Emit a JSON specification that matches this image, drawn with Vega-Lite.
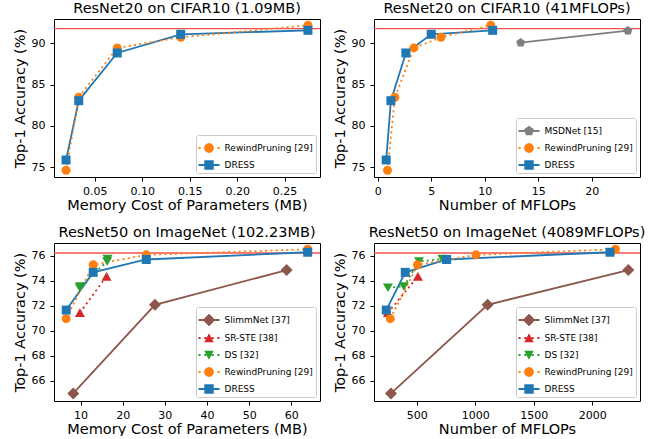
{
  "$schema": "https://vega.github.io/schema/vega-lite/v6.json",
  "padding": {"left": 11, "top": 0, "right": 5, "bottom": 0},
  "bounds": "flush",
  "columns": 2,
  "spacing": {"column": 54, "row": 66},
  "datasets": {
    "p1": [
      {"method": "RewindPruning [29]", "x": 0.0197, "y": 74.64},
      {"method": "RewindPruning [29]", "x": 0.0331, "y": 83.47},
      {"method": "RewindPruning [29]", "x": 0.0736, "y": 89.44},
      {"method": "RewindPruning [29]", "x": 0.1405, "y": 90.73},
      {"method": "RewindPruning [29]", "x": 0.2746, "y": 92.18},
      {"method": "DRESS", "x": 0.0197, "y": 75.89},
      {"method": "DRESS", "x": 0.0331, "y": 83.06},
      {"method": "DRESS", "x": 0.0736, "y": 88.83},
      {"method": "DRESS", "x": 0.1405, "y": 91.09},
      {"method": "DRESS", "x": 0.2746, "y": 91.57}
    ],
    "p2": [
      {"method": "MSDNet [15]", "x": 13.35, "y": 90.08},
      {"method": "MSDNet [15]", "x": 23.37, "y": 91.53},
      {"method": "RewindPruning [29]", "x": 0.90, "y": 74.64},
      {"method": "RewindPruning [29]", "x": 1.59, "y": 83.47},
      {"method": "RewindPruning [29]", "x": 3.37, "y": 89.44},
      {"method": "RewindPruning [29]", "x": 5.90, "y": 90.73},
      {"method": "RewindPruning [29]", "x": 10.55, "y": 92.18},
      {"method": "DRESS", "x": 0.78, "y": 75.89},
      {"method": "DRESS", "x": 1.22, "y": 83.06},
      {"method": "DRESS", "x": 2.62, "y": 88.83},
      {"method": "DRESS", "x": 4.99, "y": 91.09},
      {"method": "DRESS", "x": 10.73, "y": 91.57}
    ],
    "p3": [
      {"method": "SlimmNet [37]", "x": 8.26, "y": 64.99},
      {"method": "SlimmNet [37]", "x": 27.64, "y": 72.08},
      {"method": "SlimmNet [37]", "x": 58.89, "y": 74.86},
      {"method": "SR-STE [38]", "x": 9.84, "y": 71.45},
      {"method": "SR-STE [38]", "x": 16.17, "y": 74.36},
      {"method": "DS [32]", "x": 9.8, "y": 73.45},
      {"method": "DS [32]", "x": 9.9, "y": 73.55},
      {"method": "DS [32]", "x": 16.3, "y": 75.55},
      {"method": "DS [32]", "x": 16.4, "y": 75.75},
      {"method": "RewindPruning [29]", "x": 6.6, "y": 70.97},
      {"method": "RewindPruning [29]", "x": 13.0, "y": 75.29},
      {"method": "RewindPruning [29]", "x": 25.59, "y": 76.08},
      {"method": "RewindPruning [29]", "x": 63.88, "y": 76.53},
      {"method": "DRESS", "x": 6.6, "y": 71.66},
      {"method": "DRESS", "x": 13.0, "y": 74.68},
      {"method": "DRESS", "x": 25.59, "y": 75.71},
      {"method": "DRESS", "x": 63.88, "y": 76.29}
    ],
    "p4": [
      {"method": "SlimmNet [37]", "x": 281, "y": 64.99},
      {"method": "SlimmNet [37]", "x": 1106, "y": 72.08},
      {"method": "SlimmNet [37]", "x": 2307, "y": 74.86},
      {"method": "SR-STE [38]", "x": 255, "y": 71.45},
      {"method": "SR-STE [38]", "x": 511, "y": 74.36},
      {"method": "DS [32]", "x": 255, "y": 73.45},
      {"method": "DS [32]", "x": 390, "y": 73.55},
      {"method": "DS [32]", "x": 520, "y": 75.55},
      {"method": "DS [32]", "x": 720, "y": 75.75},
      {"method": "RewindPruning [29]", "x": 275, "y": 70.97},
      {"method": "RewindPruning [29]", "x": 508, "y": 75.29},
      {"method": "RewindPruning [29]", "x": 1007, "y": 76.08},
      {"method": "RewindPruning [29]", "x": 2197, "y": 76.53},
      {"method": "DRESS", "x": 241, "y": 71.66},
      {"method": "DRESS", "x": 403, "y": 74.68},
      {"method": "DRESS", "x": 756, "y": 75.71},
      {"method": "DRESS", "x": 2151, "y": 76.29}
    ],
    "base1": [{"b": 91.77}],
    "base2": [{"b": 76.23}]
  },
  "concat": [
    {
      "width": 266, "height": 158,
      "title": {"text": "ResNet20 on CIFAR10 (1.09MB)", "fontWeight": "normal"},
      "layer": [
        {"data": {"name": "base1"}, "mark": {"type": "rule", "color": "#f4524f", "strokeWidth": 1.3},
         "encoding": {"y": {"field": "b", "type": "quantitative", "scale": {"domain": [73.83, 92.94], "nice": false, "zero": false}, "axis": {"title": "Top-1 Accuracy (%)", "values": [75, 80, 85, 90], "tickCount": 20, "format": "d"}}}},
        {"data": {"name": "p1"}, "transform": [{"filter": {"field": "method", "oneOf": ["DRESS"]}}], "mark": {"type": "line", "strokeWidth": 1.8},
         "encoding": {
           "x": {"field": "x", "type": "quantitative", "scale": {"domain": [0.007, 0.2873], "nice": false, "zero": false}, "axis": {"title": "Memory Cost of Parameters (MB)", "values": [0.05, 0.1, 0.15, 0.2, 0.25], "format": ".2f", "tickCount": 20}},
           "y": {"field": "y", "type": "quantitative"},
           "color": {"field": "method", "type": "nominal", "scale": {"domain": ["RewindPruning [29]", "DRESS"], "range": ["#ff7f0e", "#1f77b4"]}}
         }},
        {"data": {"name": "p1"}, "transform": [{"filter": {"field": "method", "oneOf": ["RewindPruning [29]"]}}], "mark": {"type": "line", "strokeWidth": 1.8, "strokeDash": [2, 3.3]},
         "encoding": {"x": {"field": "x", "type": "quantitative"}, "y": {"field": "y", "type": "quantitative"}, "color": {"field": "method", "type": "nominal"}}},
        {"data": {"name": "p1"}, "transform": [{"filter": {"field": "method", "oneOf": ["RewindPruning [29]"]}}], "mark": {"type": "point", "filled": true, "opacity": 1, "shape": "circle", "size": 81},
         "encoding": {"x": {"field": "x", "type": "quantitative"}, "y": {"field": "y", "type": "quantitative"}, "color": {"field": "method", "type": "nominal"}}},
        {"data": {"name": "p1"}, "transform": [{"filter": {"field": "method", "oneOf": ["DRESS"]}}], "mark": {"type": "point", "filled": true, "opacity": 1, "shape": "square", "size": 81},
         "encoding": {"x": {"field": "x", "type": "quantitative"}, "y": {"field": "y", "type": "quantitative"}, "color": {"field": "method", "type": "nominal"}}},
        {"data": {"name": "p1"}, "mark": {"type": "point", "filled": true, "opacity": 0},
         "encoding": {"x": {"field": "x", "type": "quantitative"}, "y": {"field": "y", "type": "quantitative"},
           "color": {"field": "method", "type": "nominal", "legend": {"title": null, "orient": "bottom-right", "symbolOpacity": 1}},
           "shape": {"field": "method", "type": "nominal", "legend": null, "scale": {"domain": ["RewindPruning [29]", "DRESS"], "range": [
             "M-1,-0.09L-0.8,-0.09L-0.8,0.09L-1,0.09ZM-0.45,-0.09L-0.25,-0.09L-0.25,0.09L-0.45,0.09ZM0.25,-0.09L0.45,-0.09L0.45,0.09L0.25,0.09ZM0.8,-0.09L1,-0.09L1,0.09L0.8,0.09ZM0.47,0L0.407,0.235L0.235,0.407L0,0.47L-0.235,0.407L-0.407,0.235L-0.47,0L-0.407,-0.235L-0.235,-0.407L0,-0.47L0.235,-0.407L0.407,-0.235Z",
             "M-1,-0.09L1,-0.09L1,0.09L-1,0.09ZM-0.45,-0.45L0.45,-0.45L0.45,0.45L-0.45,0.45Z"]}}}}
      ]
    },
    {
      "width": 266, "height": 158,
      "title": {"text": "ResNet20 on CIFAR10 (41MFLOPs)", "fontWeight": "normal"},
      "layer": [
        {"data": {"name": "base1"}, "mark": {"type": "rule", "color": "#f4524f", "strokeWidth": 1.3},
         "encoding": {"y": {"field": "b", "type": "quantitative", "scale": {"domain": [73.83, 92.94], "nice": false, "zero": false}, "axis": {"title": "Top-1 Accuracy (%)", "values": [75, 80, 85, 90], "tickCount": 20, "format": "d"}}}},
        {"data": {"name": "p2"}, "transform": [{"filter": {"field": "method", "oneOf": ["MSDNet [15]", "DRESS"]}}], "mark": {"type": "line", "strokeWidth": 1.8},
         "encoding": {
           "x": {"field": "x", "type": "quantitative", "scale": {"domain": [-0.36, 24.5], "nice": false, "zero": false}, "axis": {"title": "Number of MFLOPs", "values": [0, 5, 10, 15, 20], "format": "d", "tickCount": 20}},
           "y": {"field": "y", "type": "quantitative"},
           "color": {"field": "method", "type": "nominal", "scale": {"domain": ["MSDNet [15]", "RewindPruning [29]", "DRESS"], "range": ["#7f7f7f", "#ff7f0e", "#1f77b4"]}}
         }},
        {"data": {"name": "p2"}, "transform": [{"filter": {"field": "method", "oneOf": ["RewindPruning [29]"]}}], "mark": {"type": "line", "strokeWidth": 1.8, "strokeDash": [2, 3.3]},
         "encoding": {"x": {"field": "x", "type": "quantitative"}, "y": {"field": "y", "type": "quantitative"}, "color": {"field": "method", "type": "nominal"}}},
        {"data": {"name": "p2"}, "transform": [{"filter": {"field": "method", "oneOf": ["MSDNet [15]"]}}], "mark": {"type": "point", "filled": true, "opacity": 1, "shape": "M0,-1L0.951,-0.309L0.588,0.809L-0.588,0.809L-0.951,-0.309Z", "size": 90},
         "encoding": {"x": {"field": "x", "type": "quantitative"}, "y": {"field": "y", "type": "quantitative"}, "color": {"field": "method", "type": "nominal"}}},
        {"data": {"name": "p2"}, "transform": [{"filter": {"field": "method", "oneOf": ["RewindPruning [29]"]}}], "mark": {"type": "point", "filled": true, "opacity": 1, "shape": "circle", "size": 81},
         "encoding": {"x": {"field": "x", "type": "quantitative"}, "y": {"field": "y", "type": "quantitative"}, "color": {"field": "method", "type": "nominal"}}},
        {"data": {"name": "p2"}, "transform": [{"filter": {"field": "method", "oneOf": ["DRESS"]}}], "mark": {"type": "point", "filled": true, "opacity": 1, "shape": "square", "size": 81},
         "encoding": {"x": {"field": "x", "type": "quantitative"}, "y": {"field": "y", "type": "quantitative"}, "color": {"field": "method", "type": "nominal"}}},
        {"data": {"name": "p2"}, "mark": {"type": "point", "filled": true, "opacity": 0},
         "encoding": {"x": {"field": "x", "type": "quantitative"}, "y": {"field": "y", "type": "quantitative"},
           "color": {"field": "method", "type": "nominal", "legend": {"title": null, "orient": "bottom-right", "symbolOpacity": 1}},
           "shape": {"field": "method", "type": "nominal", "legend": null, "scale": {"domain": ["MSDNet [15]", "RewindPruning [29]", "DRESS"], "range": [
             "M-1,-0.09L1,-0.09L1,0.09L-1,0.09ZM0,-0.5L0.476,-0.155L0.294,0.405L-0.294,0.405L-0.476,-0.155Z",
             "M-1,-0.09L-0.8,-0.09L-0.8,0.09L-1,0.09ZM-0.45,-0.09L-0.25,-0.09L-0.25,0.09L-0.45,0.09ZM0.25,-0.09L0.45,-0.09L0.45,0.09L0.25,0.09ZM0.8,-0.09L1,-0.09L1,0.09L0.8,0.09ZM0.47,0L0.407,0.235L0.235,0.407L0,0.47L-0.235,0.407L-0.407,0.235L-0.47,0L-0.407,-0.235L-0.235,-0.407L0,-0.47L0.235,-0.407L0.407,-0.235Z",
             "M-1,-0.09L1,-0.09L1,0.09L-1,0.09ZM-0.45,-0.45L0.45,-0.45L0.45,0.45L-0.45,0.45Z"]}}}}
      ]
    },
    {
      "width": 266, "height": 158,
      "title": {"text": "ResNet50 on ImageNet (102.23MB)", "fontWeight": "normal"},
      "layer": [
        {"data": {"name": "base2"}, "mark": {"type": "rule", "color": "#f4524f", "strokeWidth": 1.3},
         "encoding": {"y": {"field": "b", "type": "quantitative", "scale": {"domain": [64.38, 77.03], "nice": false, "zero": false}, "axis": {"title": "Top-1 Accuracy (%)", "values": [66, 68, 70, 72, 74, 76], "tickCount": 20, "format": "d"}}}},
        {"data": {"name": "p3"}, "transform": [{"filter": {"field": "method", "oneOf": ["SlimmNet [37]", "DRESS"]}}], "mark": {"type": "line", "strokeWidth": 1.8},
         "encoding": {
           "x": {"field": "x", "type": "quantitative", "scale": {"domain": [3.7, 66.8], "nice": false, "zero": false}, "axis": {"title": "Memory Cost of Parameters (MB)", "values": [10, 20, 30, 40, 50, 60], "format": "d", "tickCount": 20}},
           "y": {"field": "y", "type": "quantitative"},
           "color": {"field": "method", "type": "nominal", "scale": {"domain": ["SlimmNet [37]", "SR-STE [38]", "DS [32]", "RewindPruning [29]", "DRESS"], "range": ["#8c564b", "#d62728", "#2ca02c", "#ff7f0e", "#1f77b4"]}}
         }},
        {"data": {"name": "p3"}, "transform": [{"filter": {"field": "method", "oneOf": ["SR-STE [38]", "DS [32]", "RewindPruning [29]"]}}], "mark": {"type": "line", "strokeWidth": 1.8, "strokeDash": [2, 3.3]},
         "encoding": {"x": {"field": "x", "type": "quantitative"}, "y": {"field": "y", "type": "quantitative"}, "color": {"field": "method", "type": "nominal"}}},
        {"data": {"name": "p3"}, "transform": [{"filter": {"field": "method", "oneOf": ["SlimmNet [37]"]}}], "mark": {"type": "point", "filled": true, "opacity": 1, "shape": "diamond", "size": 144},
         "encoding": {"x": {"field": "x", "type": "quantitative"}, "y": {"field": "y", "type": "quantitative"}, "color": {"field": "method", "type": "nominal"}}},
        {"data": {"name": "p3"}, "transform": [{"filter": {"field": "method", "oneOf": ["SR-STE [38]"]}}], "mark": {"type": "point", "filled": true, "opacity": 1, "shape": "triangle-up", "size": 100},
         "encoding": {"x": {"field": "x", "type": "quantitative"}, "y": {"field": "y", "type": "quantitative"}, "color": {"field": "method", "type": "nominal"}}},
        {"data": {"name": "p3"}, "transform": [{"filter": {"field": "method", "oneOf": ["DS [32]"]}}], "mark": {"type": "point", "filled": true, "opacity": 1, "shape": "triangle-down", "size": 100},
         "encoding": {"x": {"field": "x", "type": "quantitative"}, "y": {"field": "y", "type": "quantitative"}, "color": {"field": "method", "type": "nominal"}}},
        {"data": {"name": "p3"}, "transform": [{"filter": {"field": "method", "oneOf": ["RewindPruning [29]"]}}], "mark": {"type": "point", "filled": true, "opacity": 1, "shape": "circle", "size": 81},
         "encoding": {"x": {"field": "x", "type": "quantitative"}, "y": {"field": "y", "type": "quantitative"}, "color": {"field": "method", "type": "nominal"}}},
        {"data": {"name": "p3"}, "transform": [{"filter": {"field": "method", "oneOf": ["DRESS"]}}], "mark": {"type": "point", "filled": true, "opacity": 1, "shape": "square", "size": 81},
         "encoding": {"x": {"field": "x", "type": "quantitative"}, "y": {"field": "y", "type": "quantitative"}, "color": {"field": "method", "type": "nominal"}}},
        {"data": {"name": "p3"}, "mark": {"type": "point", "filled": true, "opacity": 0},
         "encoding": {"x": {"field": "x", "type": "quantitative"}, "y": {"field": "y", "type": "quantitative"},
           "color": {"field": "method", "type": "nominal", "legend": {"title": null, "orient": "bottom-right", "symbolOpacity": 1}},
           "shape": {"field": "method", "type": "nominal", "legend": null, "scale": {"domain": ["SlimmNet [37]", "SR-STE [38]", "DS [32]", "RewindPruning [29]", "DRESS"], "range": [
             "M-1,-0.09L1,-0.09L1,0.09L-1,0.09ZM0,-0.6L0.6,0L0,0.6L-0.6,0Z",
             "M-1,-0.09L-0.8,-0.09L-0.8,0.09L-1,0.09ZM-0.45,-0.09L-0.25,-0.09L-0.25,0.09L-0.45,0.09ZM0.25,-0.09L0.45,-0.09L0.45,0.09L0.25,0.09ZM0.8,-0.09L1,-0.09L1,0.09L0.8,0.09ZM0,-0.45L0.45,0.4L-0.45,0.4Z",
             "M-1,-0.09L-0.8,-0.09L-0.8,0.09L-1,0.09ZM-0.45,-0.09L-0.25,-0.09L-0.25,0.09L-0.45,0.09ZM0.25,-0.09L0.45,-0.09L0.45,0.09L0.25,0.09ZM0.8,-0.09L1,-0.09L1,0.09L0.8,0.09ZM-0.45,-0.4L0.45,-0.4L0,0.45Z",
             "M-1,-0.09L-0.8,-0.09L-0.8,0.09L-1,0.09ZM-0.45,-0.09L-0.25,-0.09L-0.25,0.09L-0.45,0.09ZM0.25,-0.09L0.45,-0.09L0.45,0.09L0.25,0.09ZM0.8,-0.09L1,-0.09L1,0.09L0.8,0.09ZM0.47,0L0.407,0.235L0.235,0.407L0,0.47L-0.235,0.407L-0.407,0.235L-0.47,0L-0.407,-0.235L-0.235,-0.407L0,-0.47L0.235,-0.407L0.407,-0.235Z",
             "M-1,-0.09L1,-0.09L1,0.09L-1,0.09ZM-0.45,-0.45L0.45,-0.45L0.45,0.45L-0.45,0.45Z"]}}}}
      ]
    },
    {
      "width": 266, "height": 158,
      "title": {"text": "ResNet50 on ImageNet (4089MFLOPs)", "fontWeight": "normal"},
      "layer": [
        {"data": {"name": "base2"}, "mark": {"type": "rule", "color": "#f4524f", "strokeWidth": 1.3},
         "encoding": {"y": {"field": "b", "type": "quantitative", "scale": {"domain": [64.38, 77.03], "nice": false, "zero": false}, "axis": {"title": "Top-1 Accuracy (%)", "values": [66, 68, 70, 72, 74, 76], "tickCount": 20, "format": "d"}}}},
        {"data": {"name": "p4"}, "transform": [{"filter": {"field": "method", "oneOf": ["SlimmNet [37]", "DRESS"]}}], "mark": {"type": "line", "strokeWidth": 1.8},
         "encoding": {
           "x": {"field": "x", "type": "quantitative", "scale": {"domain": [136, 2407], "nice": false, "zero": false}, "axis": {"title": "Number of MFLOPs", "values": [500, 1000, 1500, 2000], "format": "d", "tickCount": 20}},
           "y": {"field": "y", "type": "quantitative"},
           "color": {"field": "method", "type": "nominal", "scale": {"domain": ["SlimmNet [37]", "SR-STE [38]", "DS [32]", "RewindPruning [29]", "DRESS"], "range": ["#8c564b", "#d62728", "#2ca02c", "#ff7f0e", "#1f77b4"]}}
         }},
        {"data": {"name": "p4"}, "transform": [{"filter": {"field": "method", "oneOf": ["SR-STE [38]", "DS [32]", "RewindPruning [29]"]}}], "mark": {"type": "line", "strokeWidth": 1.8, "strokeDash": [2, 3.3]},
         "encoding": {"x": {"field": "x", "type": "quantitative"}, "y": {"field": "y", "type": "quantitative"}, "color": {"field": "method", "type": "nominal"}}},
        {"data": {"name": "p4"}, "transform": [{"filter": {"field": "method", "oneOf": ["SlimmNet [37]"]}}], "mark": {"type": "point", "filled": true, "opacity": 1, "shape": "diamond", "size": 144},
         "encoding": {"x": {"field": "x", "type": "quantitative"}, "y": {"field": "y", "type": "quantitative"}, "color": {"field": "method", "type": "nominal"}}},
        {"data": {"name": "p4"}, "transform": [{"filter": {"field": "method", "oneOf": ["SR-STE [38]"]}}], "mark": {"type": "point", "filled": true, "opacity": 1, "shape": "triangle-up", "size": 100},
         "encoding": {"x": {"field": "x", "type": "quantitative"}, "y": {"field": "y", "type": "quantitative"}, "color": {"field": "method", "type": "nominal"}}},
        {"data": {"name": "p4"}, "transform": [{"filter": {"field": "method", "oneOf": ["DS [32]"]}}], "mark": {"type": "point", "filled": true, "opacity": 1, "shape": "triangle-down", "size": 100},
         "encoding": {"x": {"field": "x", "type": "quantitative"}, "y": {"field": "y", "type": "quantitative"}, "color": {"field": "method", "type": "nominal"}}},
        {"data": {"name": "p4"}, "transform": [{"filter": {"field": "method", "oneOf": ["RewindPruning [29]"]}}], "mark": {"type": "point", "filled": true, "opacity": 1, "shape": "circle", "size": 81},
         "encoding": {"x": {"field": "x", "type": "quantitative"}, "y": {"field": "y", "type": "quantitative"}, "color": {"field": "method", "type": "nominal"}}},
        {"data": {"name": "p4"}, "transform": [{"filter": {"field": "method", "oneOf": ["DRESS"]}}], "mark": {"type": "point", "filled": true, "opacity": 1, "shape": "square", "size": 81},
         "encoding": {"x": {"field": "x", "type": "quantitative"}, "y": {"field": "y", "type": "quantitative"}, "color": {"field": "method", "type": "nominal"}}},
        {"data": {"name": "p4"}, "mark": {"type": "point", "filled": true, "opacity": 0},
         "encoding": {"x": {"field": "x", "type": "quantitative"}, "y": {"field": "y", "type": "quantitative"},
           "color": {"field": "method", "type": "nominal", "legend": {"title": null, "orient": "bottom-right", "symbolOpacity": 1}},
           "shape": {"field": "method", "type": "nominal", "legend": null, "scale": {"domain": ["SlimmNet [37]", "SR-STE [38]", "DS [32]", "RewindPruning [29]", "DRESS"], "range": [
             "M-1,-0.09L1,-0.09L1,0.09L-1,0.09ZM0,-0.6L0.6,0L0,0.6L-0.6,0Z",
             "M-1,-0.09L-0.8,-0.09L-0.8,0.09L-1,0.09ZM-0.45,-0.09L-0.25,-0.09L-0.25,0.09L-0.45,0.09ZM0.25,-0.09L0.45,-0.09L0.45,0.09L0.25,0.09ZM0.8,-0.09L1,-0.09L1,0.09L0.8,0.09ZM0,-0.45L0.45,0.4L-0.45,0.4Z",
             "M-1,-0.09L-0.8,-0.09L-0.8,0.09L-1,0.09ZM-0.45,-0.09L-0.25,-0.09L-0.25,0.09L-0.45,0.09ZM0.25,-0.09L0.45,-0.09L0.45,0.09L0.25,0.09ZM0.8,-0.09L1,-0.09L1,0.09L0.8,0.09ZM-0.45,-0.4L0.45,-0.4L0,0.45Z",
             "M-1,-0.09L-0.8,-0.09L-0.8,0.09L-1,0.09ZM-0.45,-0.09L-0.25,-0.09L-0.25,0.09L-0.45,0.09ZM0.25,-0.09L0.45,-0.09L0.45,0.09L0.25,0.09ZM0.8,-0.09L1,-0.09L1,0.09L0.8,0.09ZM0.47,0L0.407,0.235L0.235,0.407L0,0.47L-0.235,0.407L-0.407,0.235L-0.47,0L-0.407,-0.235L-0.235,-0.407L0,-0.47L0.235,-0.407L0.407,-0.235Z",
             "M-1,-0.09L1,-0.09L1,0.09L-1,0.09ZM-0.45,-0.45L0.45,-0.45L0.45,0.45L-0.45,0.45Z"]}}}}
      ]
    }
  ],
  "resolve": {
    "scale": {"color": "independent", "shape": "independent"},
    "legend": {"color": "independent"}
  },
  "config": {
    "font": "DejaVu Sans",
    "view": {"stroke": "black", "strokeWidth": 1},
    "style": {"group-title": {"fontWeight": "normal", "fontSize": 14.5, "font": "DejaVu Sans", "fill": "black"}},
    "axis": {"domain": false, "grid": false, "tickColor": "black", "tickSize": 4, "tickWidth": 1, "labelFont": "DejaVu Sans", "labelFontSize": 11, "labelColor": "black", "titleFont": "DejaVu Sans", "titleFontSize": 14.5, "titleFontWeight": "normal", "titleColor": "black", "labelFlush": false, "labelOverlap": false},
    "axisX": {"labelPadding": 4, "titlePadding": 2},
    "axisY": {"labelPadding": 5, "titlePadding": 4},
    "title": {"font": "DejaVu Sans", "fontSize": 14.5, "fontWeight": "normal", "color": "black", "offset": 3, "baseline": "alphabetic"},
    "legend": {"offset": 4, "padding": 2.5, "cornerRadius": 2, "strokeColor": "#cccccc", "fillColor": "rgba(255,255,255,0.8)", "labelFont": "DejaVu Sans", "labelFontSize": 9, "labelColor": "black", "symbolSize": 441, "symbolOpacity": 1, "rowPadding": 1, "labelOffset": 5, "symbolStrokeWidth": 0}
  }
}
